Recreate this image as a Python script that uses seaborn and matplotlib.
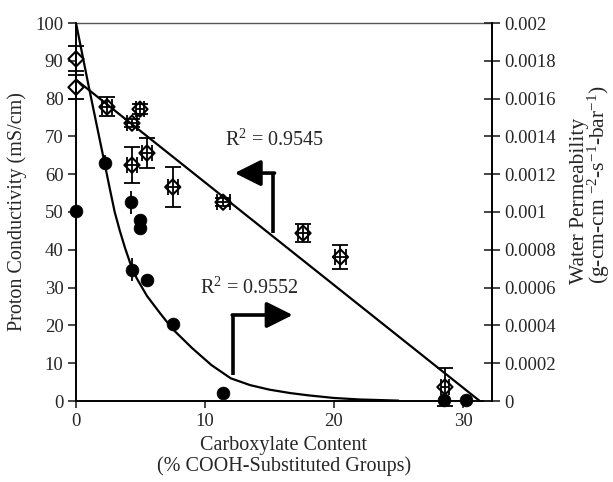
import numpy as np
import pandas as pd
import matplotlib
matplotlib.use("Agg")
import matplotlib.pyplot as plt
import seaborn as sns

# ---------------- data ----------------
# Proton conductivity (left axis, mS/cm) - open diamonds
cond_x = [0, 0, 2.4, 4.34, 4.96, 5.5, 4.34, 7.5, 11.4, 17.6, 20.5, 28.6]
cond_y = [90.5, 83.0, 77.8, 73.5, 77.2, 65.6, 62.4, 56.6, 52.6, 44.4, 38.1, 3.7]
cond_yerr = [3.3, 3.2, 2.5, 1.0, 1.3, 3.9, 4.8, 5.3, 1.0, 2.3, 3.3, 5.0]
cond_xerr = [0, 0, 0.4, 0.4, 0.3, 0.4, 0.4, 0.4, 0.5, 0.4, 0.4, 0.3]

# Water permeability (right axis) - filled circles
perm_x = [0, 2.25, 4.26, 4.96, 4.96, 4.34, 5.5, 7.5, 11.4, 28.5, 30.2]
perm_y = [0.001004, 0.00126, 0.001052, 0.000958, 0.000916, 0.000694,
          0.00064, 0.000408, 0.000042, 0.000006, 0.000004]
perm_yerr = [0, 0.00004, 0.00006, 0, 0, 0.00006, 0.00003, 0, 0, 0, 0]

# Linear fit of conductivity (R^2 = 0.9545)
lin_x = [0, 31.3]
lin_y = [85.0, 0.0]

# Decay fit of permeability (R^2 = 0.9552)
curve_x = [0, 1, 2, 2.6, 3.0, 3.4, 3.8, 4.2, 4.7, 5.5, 6.5, 7.5, 9.0, 10.5,
           12.0, 13.5, 15.0, 16.6, 18.0, 20.0, 22.0, 24.0, 25.0]
curve_y = [0.002, 0.00166, 0.00133, 0.00113, 0.001, 0.0009, 0.00081,
           0.00073, 0.00065, 0.000556, 0.000466, 0.00038, 0.00028, 0.00019,
           0.00012, 0.000084, 0.00006, 0.000042, 0.00003, 0.000016,
           0.000008, 0.000004, 0.000002]

x_ticks = [0, 10, 20, 30]
left_ticks = [0, 10, 20, 30, 40, 50, 60, 70, 80, 90, 100]
right_ticks = [0, 0.0002, 0.0004, 0.0006, 0.0008, 0.001, 0.0012,
               0.0014, 0.0016, 0.0018, 0.002]
right_tick_labels = ["0", "0.0002", "0.0004", "0.0006", "0.0008", "0.001",
                     "0.0012", "0.0014", "0.0016", "0.0018", "0.002"]

# ---------------- style ----------------
sns.set_style("ticks")
plt.rcParams["font.family"] = ["Liberation Serif", "DejaVu Serif"]
plt.rcParams["mathtext.fontset"] = "custom"
plt.rcParams["mathtext.rm"] = "Liberation Serif"
plt.rcParams["mathtext.it"] = "Liberation Serif:italic"
plt.rcParams["mathtext.bf"] = "Liberation Serif:bold"

TICK_FS = 13.5
LAB_FS = 14.5

fig = plt.figure(figsize=(6.13, 4.82), dpi=100)
ax = fig.add_axes([76 / 613, 81 / 482, 416 / 613, 378 / 482])
ax2 = ax.twinx()

df_cond = pd.DataFrame({"x": cond_x, "y": cond_y})
df_perm = pd.DataFrame({"x": perm_x, "y": perm_y})
df_lin = pd.DataFrame({"x": lin_x, "y": lin_y})
df_curve = pd.DataFrame({"x": curve_x, "y": curve_y})

# lines
sns.lineplot(data=df_lin, x="x", y="y", ax=ax, color="black", lw=1.6,
             sort=False, zorder=2)
sns.lineplot(data=df_curve, x="x", y="y", ax=ax2, color="black", lw=1.6,
             sort=False, zorder=2)

# error bars
eb = ax.errorbar(cond_x, cond_y, yerr=cond_yerr, xerr=cond_xerr, fmt="none",
                 ecolor="black", elinewidth=1.3, capsize=6, capthick=1.3,
                 zorder=3)
eb2 = ax2.errorbar(perm_x, perm_y, yerr=perm_yerr, fmt="none", ecolor="black",
                   elinewidth=1.3, capsize=0, zorder=3)
for container in (eb, eb2):
    for art in container.get_children():
        art.set_clip_on(False)

# markers
sns.scatterplot(data=df_cond, x="x", y="y", ax=ax, marker="D", s=60,
                color="none", edgecolor="black", linewidth=1.5, zorder=4,
                legend=False, clip_on=False)
sns.scatterplot(data=df_perm, x="x", y="y", ax=ax2, marker="o", s=85,
                color="black", edgecolor="black", linewidth=0.5, zorder=4,
                legend=False, clip_on=False)

# axes limits / ticks
ax.set_xlim(0, 32.25)
ax.set_ylim(0, 100)
ax2.set_ylim(0, 0.002)
ax.set_xticks(x_ticks)
ax.set_xticklabels([str(t) for t in x_ticks], fontsize=TICK_FS)
ax.set_yticks(left_ticks)
ax.set_yticklabels([str(t) for t in left_ticks], fontsize=TICK_FS)
ax2.set_yticks(right_ticks)
ax2.set_yticklabels(right_tick_labels, fontsize=TICK_FS)

ax.tick_params(axis="y", direction="out", length=6, width=1.2, pad=3)
ax.tick_params(axis="x", direction="out", length=5, width=1.2, pad=4)
ax2.tick_params(axis="y", direction="inout", length=11, width=1.2, pad=3)

for a in (ax, ax2):
    for s in a.spines.values():
        s.set_linewidth(1.4)
        s.set_color("black")
ax.spines["top"].set_linewidth(1.0)
ax.spines["top"].set_color("#555555")
ax2.spines["top"].set_visible(False)
ax2.spines["left"].set_visible(False)
ax2.spines["bottom"].set_visible(False)
ax.spines["right"].set_visible(False)

ax.set_xlabel("Carboxylate Content\n(% COOH-Substituted Groups)",
              fontsize=LAB_FS, labelpad=4, linespacing=1.05)
ax.set_ylabel("Proton Conductivity (mS/cm)", fontsize=LAB_FS, labelpad=6)
ax2.set_ylabel("")
fig.text(591 / 613, 1 - 185 / 482,
         "Water Permeability\n(g-cm-cm $^{-2}$-s$^{-1}$-bar$^{-1}$)",
         rotation=90, ha="center", va="center", multialignment="left",
         fontsize=15.5, linespacing=0.85)

# R^2 annotations
ax.text(11.55, 69.0, "R$^{2}$ = 0.9545", fontsize=LAB_FS, va="center",
        ha="left")
ax.text(9.6, 29.9, "R$^{2}$ = 0.9552", fontsize=LAB_FS, va="center",
        ha="left")

# elbow arrows
ax.plot([15.3, 15.3], [44.4, 60.3], color="black", lw=2.6,
        solid_capstyle="butt")
ax.annotate("", xy=(12.3, 60.3), xytext=(15.3 + 0.09, 60.3),
            arrowprops=dict(arrowstyle="-|>,head_length=0.8,head_width=0.4",
                            lw=2.6, color="black", shrinkA=0, shrinkB=0,
                            mutation_scale=20))
ax.plot([12.2, 12.2], [6.9, 22.75], color="black", lw=2.6,
        solid_capstyle="butt")
ax.annotate("", xy=(16.8, 22.75), xytext=(12.2 - 0.09, 22.75),
            arrowprops=dict(arrowstyle="-|>,head_length=0.8,head_width=0.4",
                            lw=2.6, color="black", shrinkA=0, shrinkB=0,
                            mutation_scale=20))

fig.savefig("out.png", dpi=100)
